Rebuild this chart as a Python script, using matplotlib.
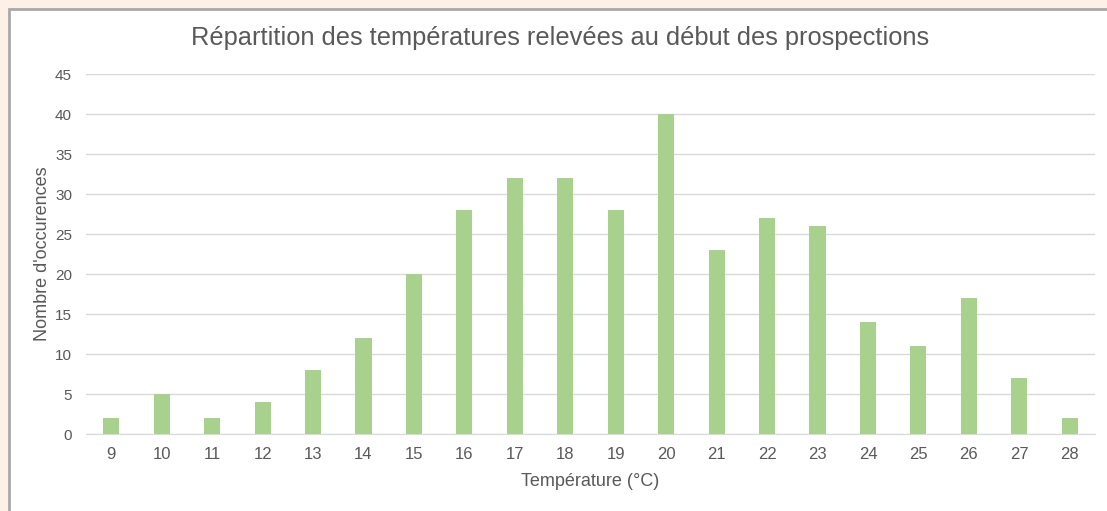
import matplotlib
matplotlib.use("Agg")
import matplotlib.pyplot as plt
from matplotlib.patches import Rectangle

# temperatures relevees (categories) et nombre d'occurences
temperatures = [str(t) for t in range(9, 29)]
occurences = [2, 5, 2, 4, 8, 12, 20, 28, 32, 32, 28, 40, 23, 27, 26, 14, 11, 17, 7, 2]
yticks = list(range(0, 50, 5))

plt.rcParams['font.family'] = ['Liberation Sans', 'DejaVu Sans']
text_col = "#595959"

fig = plt.figure(figsize=(11.07, 5.11), dpi=100)
fig.patch.set_facecolor("#FDF1E7")
# white chart area with grey frame (runs off the right/bottom edges)
fig.patches.append(Rectangle((9 / 1107, -0.05), 1.2, (511 - 9) / 511 + 0.05,
                             transform=fig.transFigure, facecolor="white",
                             edgecolor="#A9A9A9", linewidth=2, zorder=-10))

ax = fig.add_axes([86 / 1107, 77 / 511, 1009 / 1107, 360 / 511])
ax.set_zorder(5)
ax.set_facecolor("none")
x = list(range(len(temperatures)))
ax.bar(x, occurences, width=0.32, color="#A9D18E", zorder=3)

ax.set_xlim(-0.5, len(temperatures) - 0.5)
ax.set_ylim(0, 45)
ax.set_yticks(yticks)
ax.set_xticks(x)
ax.set_xticklabels(temperatures)
ax.grid(axis="y", color="#D9D9D9", linewidth=1, zorder=0)
for s in ["top", "right", "left"]:
    ax.spines[s].set_visible(False)
ax.spines["bottom"].set_color("#D9D9D9")
ax.tick_params(axis="both", length=0, colors=text_col)
ax.tick_params(axis="x", pad=9, labelsize=12)
ax.tick_params(axis="y", pad=10, labelsize=11)

ax.set_xlabel("Température (°C)", color=text_col, fontsize=13, labelpad=8)
ax.set_ylabel("Nombre d'occurences", color=text_col, fontsize=13, labelpad=3)
fig.text(560 / 1107, 1 - 38 / 511, "Répartition des températures relevées au début des prospections",
         ha="center", va="center", color=text_col, fontsize=18.3)

fig.savefig("out.png", dpi=100, facecolor=fig.get_facecolor())
